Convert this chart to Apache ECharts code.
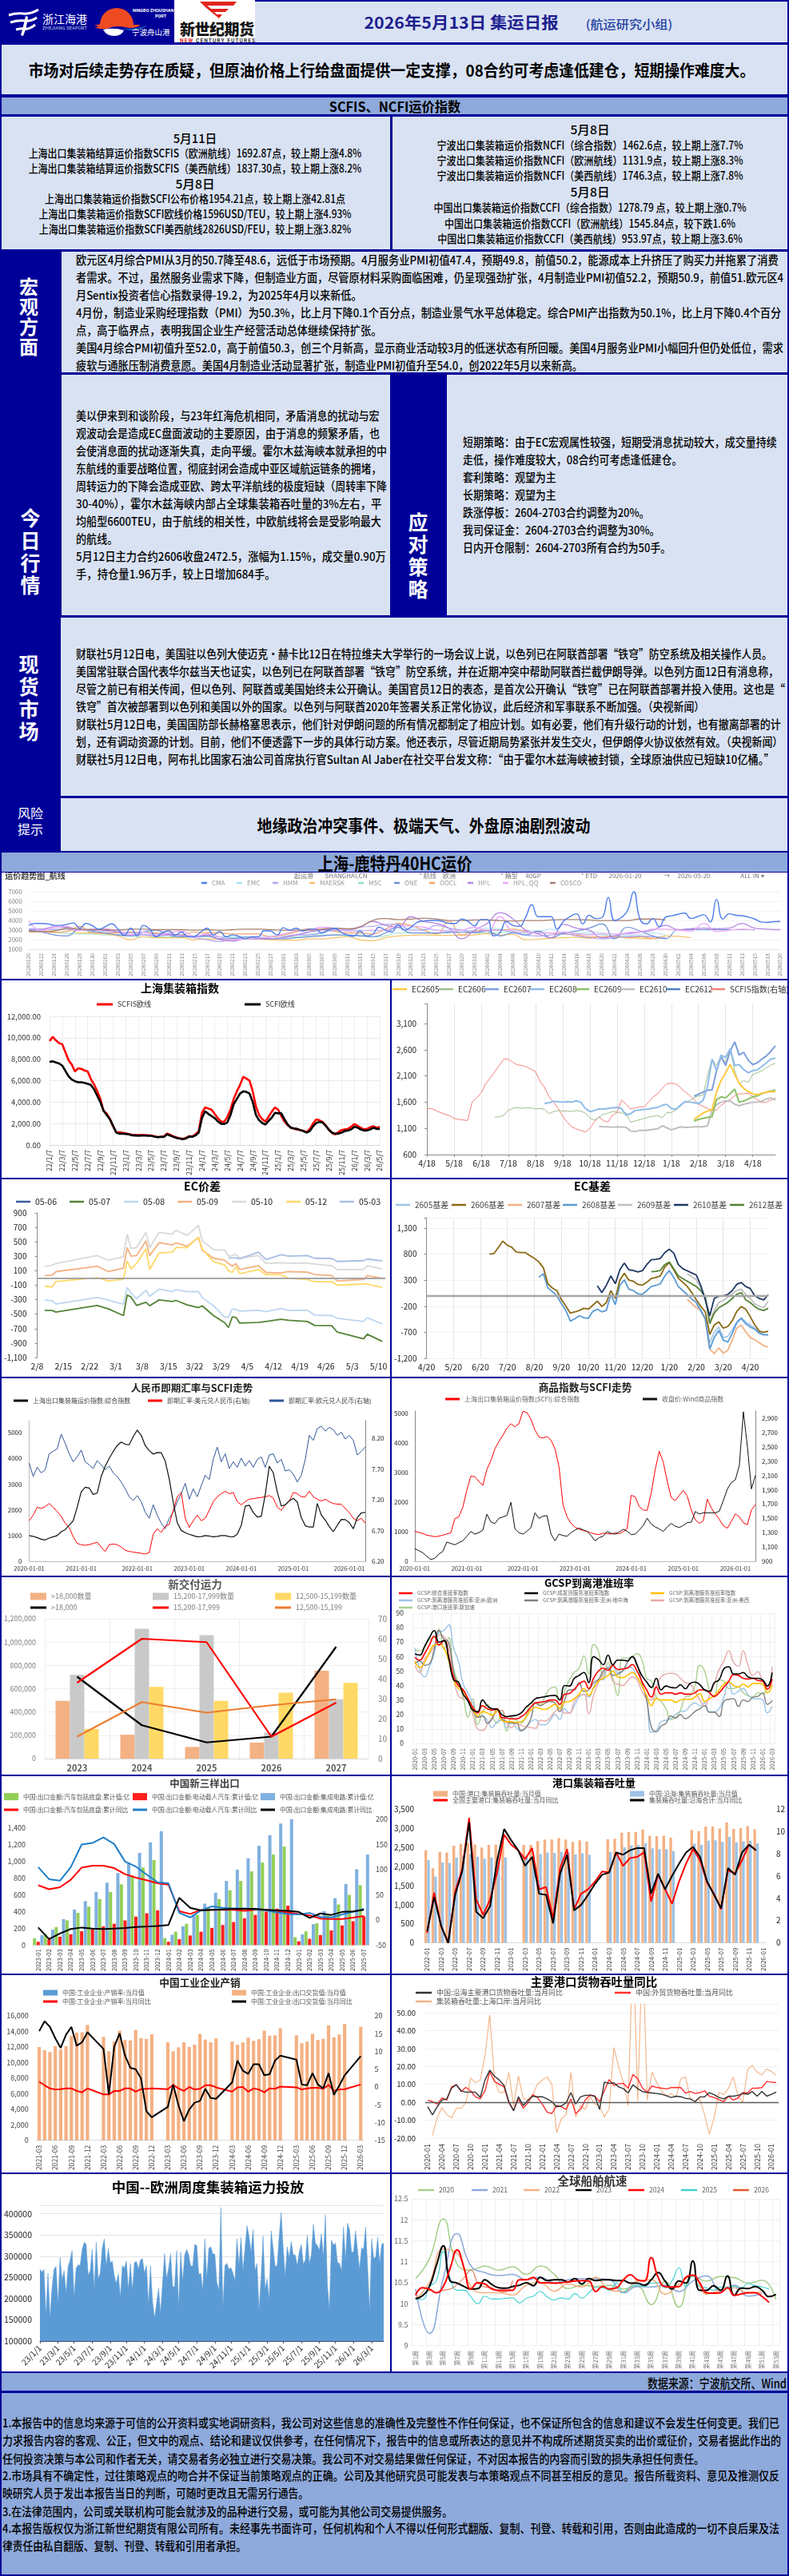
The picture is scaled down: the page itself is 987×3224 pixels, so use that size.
<!DOCTYPE html>
<html lang="zh"><head><meta charset="utf-8"><title>集运日报</title>
<script src="https://cdn.jsdelivr.net/npm/echarts@6/dist/echarts.min.js"></script>
<style>
html,body{margin:0;padding:0;background:#000099}
#page{position:relative;width:987px;height:3224px;overflow:hidden;background:#000099;font-family:"Noto Sans CJK SC","Noto Sans",sans-serif;color:#000}
.b{position:absolute}.t{position:absolute;white-space:nowrap;line-height:1}
</style></head><body><div id="page"></div>
<script>
/* ---------- text ---------- */
const headline='市场对后续走势存在质疑，但原油价格上行给盘面提供一定支撑，08合约可考虑逢低建仓，短期操作难度大。';
const freightLeft=[['5月11日',172,1],['上海出口集装箱结算运价指数SCFIS（欧洲航线）1692.87点，较上期上涨4.8%',191],['上海出口集装箱结算运价指数SCFIS（美西航线）1837.30点，较上期上涨8.2%',210],['5月8日',229,1],['上海出口集装箱运价指数SCFI公布价格1954.21点，较上期上涨42.81点',248],['上海出口集装箱运价指数SCFI欧线价格1596USD/TEU，较上期上涨4.93%',267],['上海出口集装箱运价指数SCFI美西航线2826USD/FEU，较上期上涨3.82%',286]];
const freightRight=[['5月8日',161,1],['宁波出口集装箱运价指数NCFI（综合指数）1462.6点，较上期上涨7.7%',181],['宁波出口集装箱运价指数NCFI（欧洲航线）1131.9点，较上期上涨8.3%',200],['宁波出口集装箱运价指数NCFI（美西航线）1746.3点，较上期上涨7.8%',219],['5月8日',239,1],['中国出口集装箱运价指数CCFI（综合指数）1278.79 点，较上期上涨0.7%',259],['中国出口集装箱运价指数CCFI（欧洲航线）1545.84点，较下跌1.6%',279],['中国出口集装箱运价指数CCFI（美西航线）953.97点，较上期上涨3.6%',298]];
const macroLines=['欧元区4月综合PMI从3月的50.7降至48.6，远低于市场预期。4月服务业PMI初值47.4，预期49.8，前值50.2，能源成本上升挤压了购买力并拖累了消费','者需求。不过，虽然服务业需求下降，但制造业方面，尽管原材料采购面临困难，仍呈现强劲扩张，4月制造业PMI初值52.2，预期50.9，前值51.欧元区4','月Sentix投资者信心指数录得-19.2，为2025年4月以来新低。','4月份，制造业采购经理指数（PMI）为50.3%，比上月下降0.1个百分点，制造业景气水平总体稳定。综合PMI产出指数为50.1%，比上月下降0.4个百分','点，高于临界点，表明我国企业生产经营活动总体继续保持扩张。','美国4月综合PMI初值升至52.0，高于前值50.3，创三个月新高，显示商业活动较3月的低迷状态有所回暖。美国4月服务业PMI小幅回升但仍处低位，需求','疲软与通胀压制消费意愿。美国4月制造业活动显著扩张，制造业PMI初值升至54.0，创2022年5月以来新高。'];
const macroWidths=[879,885,null,882,null,885,null];
const todayLines=['美以伊来到和谈阶段，与23年红海危机相同，矛盾消息的扰动与宏','观波动会是造成EC盘面波动的主要原因，由于消息的频繁矛盾，也','会使消息面的扰动逐渐失真，走向平缓。霍尔木兹海峡本就承担的中','东航线的重要战略位置，彻底封闭会造成中亚区域航运链条的拥堵，','周转运力的下降会造成亚欧、跨太平洋航线的极度短缺（周转率下降','30-40%），霍尔木兹海峡内部占全球集装箱吞吐量的3%左右，平','均船型6600TEU，由于航线的相关性，中欧航线将会是受影响最大','的航线。','5月12日主力合约2606收盘2472.5，涨幅为1.15%，成交量0.90万','手，持仓量1.96万手，较上日增加684手。'];
const todayWidths=[380,380,389,382,389,382,382,null,388,null];
const strategyLines=['短期策略：由于EC宏观属性较强，短期受消息扰动较大，成交量持续','走低，操作难度较大，08合约可考虑逢低建仓。','套利策略：观望为主','长期策略：观望为主','跌涨停板：2604-2703合约调整为20%。','我司保证金：2604-2703合约调整为30%。','日内开仓限制：2604-2703所有合约为50手。'];
const strategyWidths=[393,null,null,null,null,null,null];
const spotLines=['财联社5月12日电，美国驻以色列大使迈克•赫卡比12日在特拉维夫大学举行的一场会议上说，以色列已在阿联酋部署“铁穹”防空系统及相关操作人员。','美国常驻联合国代表华尔兹当天也证实，以色列已在阿联酋部署“铁穹”防空系统，并在近期冲突中帮助阿联酋拦截伊朗导弹。以色列方面12日有消息称，','尽管之前已有相关传闻，但以色列、阿联酋或美国始终未公开确认。美国官员12日的表态，是首次公开确认“铁穹”已在阿联酋部署并投入使用。这也是“','铁穹”首次被部署到以色列和美国以外的国家。以色列与阿联酋2020年签署关系正常化协议，此后经济和军事联系不断加强。（央视新闻）','财联社5月12日电，美国国防部长赫格塞思表示，他们针对伊朗问题的所有情况都制定了相应计划。如有必要，他们有升级行动的计划，也有撤离部署的计','划，还有调动资源的计划。目前，他们不便透露下一步的具体行动方案。他还表示，尽管近期局势紧张并发生交火，但伊朗停火协议依然有效。（央视新闻）','财联社5月12日电，阿布扎比国家石油公司首席执行官Sultan Al Jaber在社交平台发文称：“由于霍尔木兹海峡被封锁，全球原油供应已短缺10亿桶。”'];
const spotWidths=[871,879,887,786,882,884,874];
const disclaimerLines=['1.本报告中的信息均来源于可信的公开资料或实地调研资料，我公司对这些信息的准确性及完整性不作任何保证，也不保证所包含的信息和建议不会发生任何变更。我们已','力求报告内容的客观、公正，但文中的观点、结论和建议仅供参考，在任何情况下，报告中的信息或所表达的意见并不构成所述期货买卖的出价或征价，交易者据此作出的','任何投资决策与本公司和作者无关，请交易者务必独立进行交易决策。我公司不对交易结果做任何保证，不对因本报告的内容而引致的损失承担任何责任。','2.市场具有不确定性，过往策略观点的吻合并不保证当前策略观点的正确。公司及其他研究员可能发表与本策略观点不同甚至相反的意见。报告所载资料、意见及推测仅反','映研究人员于发出本报告当日的判断，可随时更改且无需另行通告。','3.在法律范围内，公司或关联机构可能会就涉及的品种进行交易，或可能为其他公司交易提供服务。','4.本报告版权仅为浙江新世纪期货有限公司所有。未经事先书面许可，任何机构和个人不得以任何形式翻版、复制、刊登、转载和引用，否则由此造成的一切不良后果及法','律责任由私自翻版、复制、刊登、转载和引用者承担。'];
const disclaimerWidths=[972,974,878,972,383,563,972,305];

/* ---------- freight chart ---------- */
const freightDates=['20260120','20260122','20260124','20260126','20260128','20260130','20260201','20260203','20260205','20260207','20260209','20260211','20260213','20260215','20260217','20260219','20260221','20260223','20260225','20260227','20260301','20260303','20260305','20260307','20260309','20260311','20260313','20260315','20260317','20260319','20260321','20260323','20260325','20260327','20260329','20260331','20260402','20260404','20260406','20260408','20260410','20260412','20260414','20260416','20260418','20260420','20260422','20260424','20260426','20260428','20260430','20260502','20260504','20260506','20260508','20260511','20260513','20260515','20260518','20260520'];
const cma=[3500,3700,3700,3650,3500,3500,3600,3750,3200,3700,3450,3100,3350,3650,3100,2450,3200,2400,3500,3100,2300,2750,2900,2500,2800,2300,2350,2800,3200,2500,2850,2300,2500,2350,2100,2300,2300,2950,2900,2500,3250,3000,3200,2900,3100,3100,2700,3000,3200,2800,2500,2350,2900,2400,2550,3300,3000,2800,3550,3000,3300,3800,3950,4000,4000,3900,3700,3700,4150,3900,3450,4100,4100,2400,2750,3900,3500,3400,4300,5650,4400,4400,4400,3100,3950,4400,4700,3650,4550,4200,4300,6400,4000,4300,5000,7000,4100,3650,4200,3350,4350,4500,4650,4780,4200,4400,4600,3850,6200,4150,4700,4550,4500,4350,4150,3850,3800,3880,3900];
const emc=[3100,3100,3050,3100,3000,2800,2700,2500,2400,2600,2500,2500,2400,2300,2300,2300,2300,2300,2300,2400,2400,2500,2600,2800,2900,3000,3000,2900,3000,3200,3200,3100,3000,3000,3000,2950,3200,3100,3000,3000,2900,3100,2700,2700,2800,2700,2600,2500,2550,2700,2500];
const hmm=[3100,3000,3100,3100,3000,3000,2900,2800,2700,2800,2600,2600,2400,2200,2000,1800,2100,2100,2100,2100,2300,2500,2500,2700,3000,3000,3300,3400,3600,3600,3000,3000,3500,3200,3000,2800,3000,3000,2800,2500,2400,2500,2600,2400,2200,2100,2200,2300,2400,2300,2200];
const maersk=[2800,2800,2950,3100,2700,2700,2600,2400,2000,2300,2200,2200,2200,2000,2100,2050,2000,2100,2050,2000,1950,1950,2100,2100,2200,2300,2000,1900,2200,2400,2450,2500,2450,2450,2450,2500,2650,2500,2550,2000,2050,2150,2200,2250,2150,2300,2300,2200,2150,2100,2400,2350,2200];
const msc=[2900,2850,2750,2650,2600,2600,2500,2500,2400,2300,2300,2300,2300,2300,2350,2300,2200,2200,2150,2150,2250,2300,2400,2500,2500,2400,2500,2300,2400,2700,2700,2700,2700,2800,2800,2700,2700,2750,2800,2700,2800,2700,2600,2600,2600,2500,2400,2350,2300,2300,2200];
const one=[3000,2800,2500,2400,3100,2900,2700,2500,2400,2800,3000,2500,2300,2300,2400,2100,2100,2300,2200,2100,2100,2200,2300,2400,2500,2500,2400,2300,2700,3300,2700,2700,2700,2750,2800,2750,2900,2400,2700,2500,2900,2200,2700,2900,3200,3650,2100,3300,2900,2400,2100,3050,3050,3050,3050,3050,3050,3050];
const oocl=[2800,2800,2750,2850,3400,2700,2700,2700,2800,2800,2700,2600,2500,2800,2700,2700,2600,2600,2600,2300,2500,2800,3150,3050,2900,2700,2700,2600,3100,3700,3500,3000,2600,3900,2500,2900,3000,3000,3100,2900,2700,2700,2600,2500,2300,2300,2400,2200,2300,2150,2150];
const hpl=[3100,3100,3350,3300,3000,3100,3000,2800,2500,2500,2400,2500,2500,2300,2500,2000,1850,2100,2100,2100,2200,2500,2800,3000,3100,3100,3300,3900,3500,3300,4400,3900,3700,3200,2100,3000,3700,4800,4200,3000,2600,2200,3600,3200,3000,2200,2400,2700,2800,3000,3500,3050,3150,3200,3150,3200,3700,3200,3100,3050];
const hplQQ=[4000,2950,3300,3400,2950,3100,3150,2950,2500,2800,2500,2700,2900,2350,2600,2300,2000,2100,2200,2300,2600,2900,3000,3300,3200,2900,2900,3000,3000,3500,3400,3300,3000,2900,3000,3300,2900,4400,2900,2800,2700,2700,2800,2600,2500,2600,2600,2600,2800,3100,3100,3000,2900,3700,2850,3000,3100,3000];
const cosco=[2900,2850,2900,3200,3100,3050,3050,3000,3100,3100,3050,3050,3050,3000,3050,3000,3050,3100,3100,3050,3000,3000,3000,3100,3200,3150,3350,4000,4200,4100,4150,4250,4150,4000,4000,4050,4050,4000,3950,4000,4000,4050,4100,4100,4050,4000,4000,4000,4150,4150,4050];

/* ---------- Shanghai index ---------- */
const scfisTicks=['22/1/7','22/3/7','22/5/7','22/7/7','22/9/7','22/11/7','23/1/7','23/3/7','23/5/7','23/7/7','23/9/7','23/11/7','24/1/7','24/3/7','24/5/7','24/7/7','24/9/7','24/11/7','25/1/7','25/3/7','25/5/7','25/7/7','25/9/7','25/11/7','26/1/7','26/3/7','26/5/7'];
const scfisEU=[9700,10090,9760,9500,9400,8650,7900,7500,6860,7150,7100,6950,6860,6160,5660,5040,4300,3180,2930,2430,1740,1190,1180,1140,1070,1020,940,930,930,930,920,900,870,820,745,760,800,1070,950,800,700,620,570,650,820,800,1000,1300,3000,3500,3400,3300,2900,2500,2190,2150,2600,3300,4300,5000,5600,6360,6200,6000,5000,3600,2800,2400,2190,2650,3100,3500,3300,2700,2190,1850,1650,1500,1440,1400,1300,1190,1500,2000,2385,2300,2150,1800,1450,1100,990,1200,1400,1450,1500,1700,1950,1800,1600,1450,1500,1650,1750,1600,1700];
const scfiEU=[7760,7800,7700,7600,7400,6900,6400,6100,5950,5850,5850,5800,5700,5600,5200,4600,4000,3200,2800,2400,1800,1150,1050,1050,1030,980,900,880,860,880,870,860,850,780,720,750,750,980,870,760,650,590,540,620,780,760,900,1150,2500,3150,2900,2700,2500,2200,1980,1950,2100,2800,3800,4300,4800,5000,4950,4800,4000,2800,2300,2050,1900,2250,2550,3000,2950,2950,2400,1900,1600,1550,1500,1380,1300,1150,1300,1750,2050,2150,2100,1800,1400,1150,1050,1050,1150,1300,1350,1450,1700,1620,1450,1350,1350,1450,1600,1500,1500];

/* ---------- EC contracts ---------- */
const ecTicks=['4/18','5/18','6/18','7/18','8/18','9/18','10/18','11/18','12/18','1/18','2/18','3/18','4/18'];
const ecScfis=[1470,1480,1440,1400,1370,1340,1290,1270,1260,1250,1600,1680,1780,1950,2060,2180,2300,2420,2420,2360,2310,2300,2270,2230,2180,2000,1880,1700,1600,1480,1330,1220,1130,1090,1060,1030,1100,1220,1320,1250,1220,1350,1400,1640,1560,1470,1490,1510,1510,1600,1700,1760,1860,1950,1960,1950,1880,1800,1730,1650,1560,1520,1480,1450,1450,1540,1600,1650,1720,1760,1760,1770,1700,1650,1590,1600,1640,1680];
const ec2605=[1270,1330,1390,1430,1450,1800,2010,2160,2320,2130,1960,1860,1800,1760,1740,1770,1790,1800,1800];
const ec2606=[1315,1320,1350,1450,1480,1500,1480,1490,1490,1470,1480,1460,1380,1420,1440,1430,1430,1420,1440,1430,1390,1300,1255,1310,1370,1390,1420,1410,1390,1395,1220,1240,1265,1290,1317,1330,1343,1300,1400,1400,1450,1520,1600,1630,1680,1720,1730,2100,2420,2300,2480,2350,2620,2200,1950,2010,1980,2130,2160,2200,2250,2310,2340];
const ec2607=[1710,1750,1790,1830,1830,2200,2470,2300,2570,2750,2500,2550,2400,2315,2350,2420,2480,2570,2675];
const ec2608=[1570,1590,1615,1610,1600,1610,1600,1625,1600,1480,1420,1440,1470,1470,1480,1490,1500,1480,1350,1380,1440,1450,1460,1470,1486,1500,1540,1558,1480,1460,1540,1610,1600,1590,1570,1630,1900,2420,2200,2495,2450,2620,2300,2315,2220,2160,2200,2215,2280,2350,2420,2440];
const ec2609=[1240,1270,1290,1310,1320,1650,1700,1680,1760,1850,1600,1620,1660,1700,1720,1760,1790,1810,1830];
const ec2610=[1140,1130,1130,1120,1130,1125,1120,1050,1040,1060,1060,1070,1080,1090,1150,1110,1070,1100,1130,1120,1120,1130,1130,1130,1150,1450,1550,1600,1620,1620,1560,1530,1560,1580,1600,1600,1620,1660,1680,1640];
const ec2612=[];

/* ---------- EC spread ---------- */
const spreadTicks=['2/8','2/15','2/22','3/1','3/8','3/15','3/22','3/29','4/5','4/12','4/19','4/26','5/3','5/10'];
const spreadDays=[2,4,5,16,19,23,24,25,26.5,29,30,32.5,36,37,40,43,44,47,50,51,52,53,54,59,61,65,67,72,74,78.5,80,87,88,92];
const sp0507=[-450,-450,-472,-380,-428,-520,-236,-262,-380,-336,-384,-303,-325,-310,-373,-410,-384,-520,-620,-686,-539,-546,-624,-616,-601,-572,-585,-601,-657,-660,-749,-841,-778,-878];
const sp0508=[-306,-315,-361,-269,-306,-365,-133,-207,-288,-170,-255,-155,-188,-162,-190,-188,-270,-384,-542,-542,-428,-435,-457,-446,-465,-421,-450,-446,-513,-520,-557,-601,-550,-638];
const sp0509=[33,40,88,162,88,135,420,302,310,513,310,487,457,483,439,560,383,273,243,200,162,199,118,170,77,70,88,80,48,33,-40,-22,33,-5];
const sp0510=[162,175,199,310,243,295,605,410,420,631,420,631,605,660,590,727,513,391,384,302,310,328,273,310,199,210,205,205,192,170,114,118,170,125];
const sp0512=[-114,-125,-48,4,-40,-18,236,125,200,402,118,347,358,420,420,568,402,225,181,100,77,155,59,118,44,44,-5,-22,-51,-51,-100,-85,-85,-129];
const sp0503=[277,277,277,265,358,255,321,302,310,273,270,229,240,262,236];

/* ---------- EC basis ---------- */
const basisTicks=['4/20','5/20','6/20','7/20','8/20','9/20','10/20','11/20','12/20','1/20','2/20','3/20','4/20'];
const basis2605=[-150,-300,-450,-900,-700,-600,-800,-780,-650,-500,-420,-500,-560,-620,-700,-740,-750];
const basis2606=[800,810,930,1050,970,930,840,830,830,770,720,650,540,232,150,100,-70,-200,-332,-310,-281,-240,-256,-180,-100,-205,-130,100,-51,300,434,300,281,220,205,260,332,350,383,550,639,500,340,260,180,60,-77,-200,-307,-740,-560,-500,-620,-590,-480,-300,-205,-256,-400,-556,-680,-700,-680];
const basis2607=[-61,-150,-230,-271,-450,-1021,-1110,-1000,-1100,-1047,-850,-620,-562,-690,-800,-843,-900,-960,-985];
const basis2608=[355,424,153,80,0,-150,-280,-485,-440,-383,-420,-434,-300,-256,-307,-280,25,-169,200,307,130,100,40,25,100,179,200,230,380,486,350,179,100,20,-60,-128,-280,-434,-1021,-800,-665,-850,-890,-720,-520,-434,-536,-600,-640,-720,-750,-750];
const basis2609=[420,370,307,150,-25,-484,-280,-128,-90,-25,40,100,130,25,-50,-153,-200,-230,-102];
const basis2610=[191,61,200,383,232,500,630,500,486,460,480,600,692,700,717,830,896,820,600,520,480,440,400,200,-77,-383,-50,-10,0,25,100,220,256,179,140,0,-50,-77,20];
const basis2612=[462,470,487,600,650,520,383,330,280,230,179,100,-25,-536,-330,-230,-180,-128,-50,30,61,-77,-130,-205,-260,-281,-240];

/* ---------- FX and commodity ---------- */
const yearTicks=['2020-01-01','2021-01-01','2022-01-01','2023-01-01','2024-01-01','2025-01-01','2026-01-01'];
const fxScfi=[1000,970,920,860,830,900,950,1000,1150,1230,1400,1576,2100,2700,2880,2850,2600,2650,3300,3700,4000,4272,4500,4640,4550,4530,4850,5100,4900,4500,4300,4170,4230,4220,3900,3200,2300,1500,1200,1110,1050,1000,950,960,1000,980,950,970,1000,1000,960,950,1050,1400,2150,2180,1900,1720,1750,2600,3700,3440,2700,2150,2200,2350,2450,2300,1700,1380,1330,1330,2250,1800,1600,1350,1150,1400,1630,1620,1500,1265,1700,1880,1900];
const usdCny=[6.86,6.95,7.08,7.06,7.09,7.14,7.08,7.01,6.93,6.82,6.75,6.60,6.49,6.47,6.46,6.47,6.49,6.51,6.43,6.36,6.47,6.48,6.47,6.43,6.38,6.36,6.35,6.34,6.33,6.32,6.34,6.64,6.73,6.67,6.77,6.80,7.03,7.25,7.32,6.90,6.75,6.86,6.95,6.86,6.90,7.03,7.17,7.25,7.30,7.34,7.30,7.32,7.17,7.12,7.17,7.21,7.22,7.23,7.24,7.25,7.27,7.23,7.08,7.03,7.12,7.18,7.32,7.30,7.25,7.25,7.34,7.25,7.21,7.18,7.21,7.17,7.14,7.13,7.13,7.06,6.99,6.90,6.86,6.90,6.82];
const eurCny=[7.80,7.58,7.73,7.64,7.69,7.95,7.99,8.03,8.27,8.12,7.95,7.82,7.90,8.01,7.82,7.77,7.71,7.84,7.77,7.69,7.75,7.64,7.58,7.49,7.38,7.25,7.19,7.27,7.17,7.00,6.90,7.12,6.95,6.82,6.73,6.90,7.00,7.17,7.30,7.47,7.21,7.38,7.25,7.43,7.60,7.53,7.86,8.06,7.82,7.95,7.71,7.82,7.73,7.88,7.75,7.84,7.73,7.86,7.90,7.73,7.93,7.95,7.80,7.86,7.67,7.69,7.62,7.49,7.60,7.86,8.25,8.17,8.36,8.40,8.32,8.38,8.34,8.25,8.30,8.19,8.25,8.17,7.93,7.99,8.06];
const cmdScfi=[1011,980,940,880,860,830,850,880,920,960,1440,1500,1824,2400,2880,2860,2700,2565,3100,3400,3800,4050,4260,4500,4650,4550,4650,5075,5030,4800,4440,4200,4170,4217,4100,3800,3200,1914,1500,1282,1150,1084,1040,1011,960,920,903,950,940,920,960,930,1000,1100,2230,2185,1850,1734,1720,2300,3100,3720,3360,2700,2150,2050,2230,2400,2200,1734,1400,1282,1372,2100,1800,1600,1418,1200,1120,1350,1600,1500,1300,1237,1734,1914];
const windIndex=[1075,1050,1019,970,926,940,1000,1037,1168,1150,1130,1160,1186,1250,1316,1279,1300,1335,1558,1450,1428,1500,1520,1540,1725,1353,1300,1279,1320,1372,1577,1500,1530,1539,1280,1186,1279,1260,1250,1300,1335,1365,1340,1316,1260,1186,1230,1250,1316,1290,1279,1310,1346,1320,1272,1280,1335,1400,1502,1420,1380,1353,1316,1380,1428,1390,1372,1400,1440,1446,1595,1560,1577,1577,1577,1577,1600,1750,1911,2000,2040,2245,2990,2500,1911,2100];

/* ---------- deliveries ---------- */
const deliveryYears=['2023','2024','2025','2026','2027'];
const teu18k=[495000,205000,100000,137000,755000];
const teu15k=[720000,1115000,1060000,225000,510000];
const teu12k=[255000,615000,495000,565000,650000];
const cnt18k=[41,16.7,8.1,11,56];
const cnt15k=[38,60,58.3,11,28];
const cnt12k=[11,28.3,23,26.7,29.7];

/* ---------- GCSP ---------- */
const gcspTicks=['2020-01','2020-03','2020-05','2020-07','2020-09','2020-11','2021-01','2021-03','2021-05','2021-07','2021-09','2021-11','2022-01','2022-03','2022-05','2022-07','2022-09','2022-11','2023-01','2023-03','2023-05','2023-07','2023-09','2023-11','2024-01','2024-03','2024-05','2024-07','2024-09','2024-11','2025-01','2025-03','2025-05','2025-07','2025-09','2025-11','2026-01','2026-03'];
const gcspAll=[59.5,57.5,62,68,74,68,71,60,46,40,37,31,25,21,26,24,23,24,18,17.5,17,17,18.5,21,25,28,28.5,29,30,30,27,34,34.5,37.5,41,43,38,45,50,52,50.5,54,51,51.5,52,54.5,50,43,37,32,39,34,35,35,34,35,34,34,35,37,37,35,32.5,35,39,43,47.5,47,45,44.5,45,43.5,43,37.5,44.5];
const gcspCargo=[61.8,61,67,73,78,70,71,59,44,42.5,34,29.5,23,22,30,26,24,23.6,20,18.5,19,19.4,21,25,27.7,31,31.7,32.3,33,33.2,30,40,39.7,45,47,49,42,60,58,54.4,61,54.4,57.6,57.6,57,60,54,47,42.5,38.7,45,37,39.7,38.7,38.4,40.6,37.8,41.5,42.4,40.6,37,36,42,44,51.6,53,48,48,49,46,45,45,44,39.7,49];
const gcspPort=[57,52.5,56,63,68,68.5,66,57,44,38,36,30,24,19,22,21,19.5,23,16,15,15,14.5,15,18,23,25,24,23.5,25,27,24,28.5,29,31,34,38,33,38,43,45,47,50,46,45.5,47,49,46,40,33,26,31,30,30,30,28.5,30,30.5,30.5,32,34.5,29,31,33,37,41,42.5,40,39,41,39,41.5,41.5,41,35,40.5];
const gcspEurope=[66,51,46,53,62,77,78,82,66,57,41,35,28,19,19,16,11,15,16,11,15,11,8.5,11,15,16.5,13,13,16,20,16.5,24,21,26,32,34,32,39,44,44,53,53,49,50,53,52,46,40,30,7.5,9,15,16,17,20,22,22.5,26,28,26,28,22,22,24,32,42,34,36,38,33.5,31,31,30,21,25.5];
const gcspMed=[55,57,54,55,65,78,72,70,50,40,37,29,23,18,19,14,17,24,17,15,14,14,9,11,17,28,26,28,29,28,22,30,37,37,42,36,37,42,44,50,52,47,48,50,56,60,55,42,30,11,8,12,14,19,17.5,20,17,19,22,24,26,21.5,21.5,18.5,29,30.5,31,25.5,30,29,32,32.5,35,27,29.5];
const gcspUSW=[54,49,58,62,67,75,74,66,46,33,31,30,20,10,9,13,18,22,23,14,11,14,12.5,11.5,11,10.5,16,15.5,18,22,24,21,21,29,33,34,20.5,33,42,48,52,43,41,40,43,46,44,36,31,30,39,46,48,48.5,48,45,42,41,36,30,26,33,41,51,57,64,56,53.5,64,54,47,49.5,43,39,53];
const gcspSG=[65,64,66,72,73,79,65,73,52,42,32,18,31,13,21,27,19,14,23,8.5,18,16,14,19,28,28,27,33,38,39,24,36,44,49,52,60.5,48,68.5,64,46,56,45,33,59,59,60,62,58,45,43,32,29,24,16.5,18,23,32,33,40,54,50,37,32,44,43,38,38,39,35,33,32,35,34,39,44];

/* ---------- new trio exports ---------- */
const trioMonths=['2023-01','2023-02','2023-03','2023-04','2023-05','2023-06','2023-07','2023-08','2023-09','2023-10','2023-11','2023-12','2024-01','2024-02','2024-03','2024-04','2024-05','2024-06','2024-07','2024-08','2024-09','2024-10','2024-11','2024-12','2025-01','2025-02','2025-03','2025-04','2025-05','2025-06','2025-07'];
const trioCar=[80,130,215,295,385,460,550,635,725,830,925,1015,85,160,255,360,455,550,655,765,880,985,1080,1175,95,165,260,370,485,600,715];
const trioEV=[40,70,100,130,165,190,225,255,295,340,380,415,40,70,115,160,205,240,275,320,360,400,435,470,45,75,120,175,235,285,345];
const trioIC=[120,185,310,425,525,635,745,860,985,1100,1225,1360,125,225,365,495,625,765,900,1035,1185,1310,1450,1510,130,250,405,560,730,905,1080];
const trioCarY=[69,61,65,80,104,108,108,103,91,84,79,73,70,17.5,12,20,20,20,20,18,20,20,18,15,12,9,2.7,2,2,4.7,8];
const trioEVY=[105,81,78,105,150,153,164,151,116,106,90,75,73,14,5,19,27,24,23,23,21,19,15,12,11,14,6,5,11,16,22];
const trioICY=[-15,-38,-27,-18,-15,-17,-18,-17,-16,-14,-13,-12,-10,44,24,19,20,21,22,22,22,20,19,18,16,4,13,10,16,17,20];

/* ---------- port throughput ---------- */
const portTicks=['2022-01','2022-03','2022-05','2022-07','2022-09','2022-11','2023-01','2023-03','2023-05','2023-07','2023-09','2023-11','2024-01','2024-03','2024-05','2024-07','2024-09','2024-11','2025-01','2025-03','2025-05','2025-07','2025-09','2025-11','2026-01'];
const portChina=[2420,1950,2380,2360,2540,2590,2620,2570,2490,2560,2570,2650,null,null,2560,2560,2660,2700,2700,2740,2700,2640,2680,2650,null,null,2710,2720,2880,2900,2900,2960,2800,2790,2800,2750,null,null,2950,2920,3040,3040,2990,3150,2980,3000,3050,2970,null];
const portCoast=[2160,1730,2100,2090,2230,2280,2320,2250,2200,2230,2230,2230,null,null,2280,2270,2320,2360,2350,2380,2370,2310,2340,2300,null,null,2380,2380,2500,2550,2560,2600,2470,2450,2450,2400,null,null,2590,2560,2670,2680,2640,2770,2630,2650,2670,2600,null];
const portMajorY=[0.9,4.5,1.5,0,4.6,6.6,11.2,3.9,2.5,3.9,6.3,9.7,8.8,8.3,7.5,8.5,4.8,5,2.2,6.7,8.4,3,4.4,4.8,5.5,6.4,6.3,8.1,6.9,7.6,7.7,8.1,3.7,6.1,4.8,3.5,5.5,7.1,8.4,7.4,5.4,4.4,3,6.5,6.2,7.4,8.8,8.3];
const portCoastY=[1.05,4.1,1.5,0,4.3,6.4,10.8,2.8,2.2,3.3,7.4,10.2,9.2,8.3,6.9,7.7,4.4,4.3,1.75,6.2,7.9,2.9,3.4,4.3,5.3,6.1,6.3,8.1,7.9,8.3,8.5,8.5,4.4,6.2,4.8,6,7.1,8.1,8.6,7.7,5.5,4.3,3.1,6.7,6.1,8.1,8.8,8.3];

/* ---------- industrial ---------- */
const indTicks=['2021-03','2021-06','2021-09','2021-12','2022-03','2022-06','2022-09','2022-12','2023-03','2023-06','2023-09','2023-12','2024-03','2024-06','2024-09','2024-12','2025-03','2025-06','2025-09','2025-12','2026-03'];
const indExport=[12000,11600,11350,12100,11700,12100,13400,13850,13900,14850,null,null,13300,11450,12700,14100,12900,12850,14200,13150,13050,13650,null,null,12600,11450,11950,12600,12000,12300,13700,12950,12600,13100,null,null,12700,12300,12600,13200,12800,13000,14100,13450,13500,14400,null,null,13500,12500,12700,13700,12900,13050,14800,13250,13600,14950,null,null,14600];
const indRate=[96,96,96,96,96,96,96,96,96,96,null,null,96,96,96,96,96,96,96,96,96,96,null,null,96,96,96,96,96,96,96,96,96,96,null,null,96,96,96,96,96,96,96,96,96,96,null,null,96,96,96,96,96,96,96,96,96,96,null,null,96];
const indRateY=[1.5,.5,-.4,-.7,-.6,-.4,-.4,-1.1,-1.5,-.4,null,null,-2.1,-2.1,-1.1,-1.1,-.4,-.4,-1.3,-.6,-.5,-.4,null,null,-.6,.6,-.4,-1.1,0,-.7,-.5,.5,.5,-.1,null,null,-1.3,-.1,0,-1.3,-.4,-.7,-1.5,-.4,-.5,.1,null,null,-.1,-.7,-.4,-.2,-.2,-.5,.6,-1.1,-.7,-.6,null,null,.7];
const indExportY=[15.7,18.5,16.9,13.7,11,14.7,16.9,11.6,12.6,15.4,null,null,10.7,-2,11.3,15.1,8.9,5.4,5,2.4,-6.8,-8.5,null,null,-5.6,.7,-5.2,-9.6,-6.3,-4.4,-3.9,-.5,-3.1,-3.3,null,null,1.3,7.4,4.6,3.7,6.4,6.4,3.3,3.6,7.4,8.8,null,null,7.7,.7,.5,3.9,.7,-.4,3.9,-2.2,.4,3.3,null,null,8.7];

/* ---------- cargo yoy ---------- */
const cargoTicks=['2020-01','2020-04','2020-07','2020-10','2021-01','2021-04','2021-07','2021-10','2022-01','2022-04','2022-07','2022-10','2023-01','2023-04','2023-07','2023-10','2024-01','2024-04','2024-07','2024-10','2025-01','2025-04','2025-07','2025-10','2026-01'];
const cargoCoast=[-2.5,-7,-2.5,1.2,1.9,7.9,9.8,6.4,5.7,5.7,5.7,2.7,12.4,18,14.6,12.4,9.4,.4,-4.8,3.1,-1.8,1.2,3.4,3.1,3.1,1.9,.4,-2.5,-2,-.3,5.4,-1,3,3.9,3.9,3.4,-4,11.3,10.6,10.9,8.6,7.6,5.2,9.8,7.6,6,5.5,5.2,4.9,4.5,3.7,2.7,3.4,3.1,2.2,1.9,.4,3,3.1,5.4,4.2,2.7,1.9,3.4,3.4,3.9,4.9,4.5,6,3.4,6.1,3.4,4.5,5.7];
const cargoForeign=[1.2,.4,-1,2.4,1.2,8.6,9.8,6.1,8.3,6.4,3,1.9,6.4,17.1,11.6,10.1,8.6,-.3,-4.5,1.9,-3.3,-.3,4.2,2.7,-1,-5.5,-6.3,-1.8,-2.5,-4,1.9,-6.3,-4,1.2,4.2,3.4,.4,6.4,12.7,9.4,10.4,10.6,7.9,15.6,13.1,7.9,5.7,9.1,8.3,7.9,7.5,8.2,8.3,8.2,5.2,6,4.9,5.4,6.4,3.4,2.7,1.5,.4,3.4,1.2,2.4,5.4,5.2,7.9,7.9,8.2,11.6,11.3,11];
const cargoShanghai=[null,-18.5,-8.5,-3,-7,-8.8,-3.3,-3.3,-.3,13.6,10.9,12.4,25.8,48.9,12.4,5.4,5.7,16.8,-2.2,14.6,2.2,1.5,4.2,10.1,12.4,14.2,10.1,-17.1,-9.2,-7,16.8,-8.2,-1.8,-4,3.4,-1,-2,-8.2,-3.7,30.6,19.8,10.9,-1.8,90,.4,90,1.2,16.8,10.9,6.4,3.4,4.9,2.7,13.1,14.2,1.9,.4,1.9,-7,-17.9,-8.5,5.7,4.2,7.9,14.2,3.4,0,18.3,20.6,16.8,15.3,18.6,17.3,15];

/* ---------- China-Europe weekly capacity ---------- */
const weeklyTicks=['23/1/1','23/3/1','23/5/1','23/7/1','23/9/1','23/11/1','24/1/1','24/3/1','24/5/1','24/7/1','24/9/1','24/11/1','25/1/1','25/3/1','25/5/1','25/7/1','25/9/1','25/11/1','26/1/1','26/3/1'];
const weeklyCapacity=[269,263,269,160,260,154,225,269,276,188,297,244,266,213,275,291,313,203,272,280,278,316,333,328,255,266,316,222,333,247,260,319,341,276,318,285,288,253,236,258,203,278,272,288,222,283,219,285,288,270,291,294,260,278,185,278,194,154,188,225,166,238,306,247,272,306,228,228,313,182,310,241,303,316,303,277,277,328,325,257,260,219,341,247,319,322,305,305,238,219,415,179,278,283,269,273,260,242,341,278,344,266,319,372,347,310,363,266,283,172,250,347,222,247,197,360,319,276,278,347,403,319,253,322,297,335,303,303,278,310,328,281,291,350,283,303,375,331,325,314,353,297,397,232,175,338,326,331,285,283,266,369,291,378,362,310,310,360,313,269,320,316,369,275,169,341,295,297,344,283,328,331].map(v=>v*1000);

/* ---------- vessel speed ---------- */
const speedWeeks=['第1周','第3周','第5周','第7周','第9周','第11周','第13周','第15周','第17周','第19周','第21周','第23周','第25周','第27周','第29周','第31周','第33周','第35周','第37周','第39周','第41周','第43周','第45周','第47周','第49周','第51周','第53周'];
const speed2020=[10.6,11.07,12.02,10.94,10.8,10.9,10.8,10.88,10.7,10.9,10.7,10.36,10.44,10.41,10.44,10.35,10.41,9.98,10.54,9.92,10.66,10.54,10.65,10.62,10.49,10.56,10.1];
const speed2021=[10.35,9.29,10.6,11.67,10.9,10.74,10.67,10.7,10.57,10.63,10.5,10.57,10.6,10.6,10.57,10.26,10.41,10.4,10.44,10.29,10.54,10.66,10.29,10.44,10.18,10.24];
const speed2022=[10.12,10.5,11.3,11.2,10.41,10.26,10.26,10.21,10.44,10.5,10.3,10.47,10.4,10.63,10.32,10.29,10.54,10.57,10.23,10.47,10.66,10.23,10.32,10.38,10.26,10.28];
const speed2023=[10.12,10.19,10.41,10.91,11.38,10.54,10.49,10.41,10.35,10.36,10.57,10.46,10.38,10.37,10.41,10.44,10.5,10.43,10.63,10.55,10.57,10.57,10.52,10.6,10.47,10.6,10.55,10.57,10.57,10.55,10.55,10.49,10.49,10.44,10.57,10.74,10.54,10.35,10.54,10.49,11.02,10.32,10.32,10.43,10.32,10.66,10.2,10.37,10.36,10.41,10.32,10.17,10.22];
const speed2024=[10.2,10.38,10.35,10.26,10.41,10.85,11.28,10.85,10.35,10.5,10.47,10.35,10.32,10.32,10.32,10.57,10.57,10.63,10.5,10.5,10.49,10.5,10.52,10.54,10.55,10.54,10.29,10.41,10.35,10.38,10.57,10.69,10.57,10.54,11.1,10.63,10.41,10.4,10.41,10.63,10.68,10.5,10.26,10.25,10.26,10.38,10.2,10.23,10.26,10.26,10.17,10.03];
const speed2025=[10.1,10.1,10.41,10.54,11.25,10.6,10.32,10.32,10.16,10,10.18,10.11,10.11,10.13,10.14,10.02,10.13,10.18,10.29,10.16,10.09,10.14,10.11,10.24,10.13,10.26,10.39,10.38,10.32,10.5,10.26,10.41,10.44,10.41,10.49,10.5,10.38,10.54,10.86,10.41,10.66,10.41,10.38,10.32,10.4,10.4,10.41,10.38,10.48,10.43,10.4,10.35];
const speed2026=[10.13,10.2,10.32,10.26,10.32,10.35,10.46,10.62,10.8,10.5,10.4,10.38,10.3,10.28,10.55];

/* ---------- helpers ---------- */
const page=document.getElementById('page');
const FONT='"Noto Sans CJK SC","Noto Sans",sans-serif';
const CELL='#D9E2F3',BAR='#8EA9DB',NAVY='#000099';
function box(x,y,w,h,bg){const d=document.createElement('div');d.className='b';d.style.cssText=`left:${x}px;top:${y}px;width:${w}px;height:${h}px;background:${bg}`;page.appendChild(d);return d;}
function text(s,x,cy,size,o={}){const d=document.createElement('div');d.className='t';d.textContent=s;
 const base=o.anchor==='c'?'translate(-50%,-50%)':o.anchor==='r'?'translate(-100%,-50%)':'translateY(-50%)';
 d.style.cssText=`left:${x}px;top:${cy}px;font-size:${size}px;transform:${base};font-weight:${o.w||500};color:${o.c||'#000'}`;
 page.appendChild(d);
 const f=o.fit?o.fit/d.offsetWidth:(o.sx||1);
 if(f!==1){d.style.transformOrigin=o.anchor==='c'?'50% 50%':o.anchor==='r'?'100% 50%':'0 50%';d.style.transform=`${base} scaleX(${f})`;}
 d.dataset.sx=f;return d;}
function block(lines,x,ys,size,widths){let f=1;lines.forEach((s,i)=>{const d=text(s,x,ys(i),size,widths[i]?{fit:widths[i]}:{sx:f});if(widths[i])f=+d.dataset.sx;});}
function vert(chars,cx,ys,size,c){[...chars].forEach((ch,i)=>text(ch,cx,ys[i],size,{anchor:'c',w:700,c:c||'#fff'}));}
const pad=(n,a)=>Array(n).fill(null).concat(a);
const halve=a=>a.flatMap((v,i)=>i?[null,v]:[v]);
const sparse=(labels,n,step)=>{const a=Array(n).fill('');labels.forEach((l,k)=>{const i=Math.round(k*step);if(i<n)a[i]=l;});return a;};
const thou=v=>Number(v).toLocaleString('en-US');
const yA=o=>({type:'value',min:o.min,max:o.max,interval:o.iv,position:o.pos||'left',
 axisLine:{show:!!o.line,onZero:false,lineStyle:{color:o.lc||'#8c8c8c'}},axisTick:{show:!!o.tick,length:3,lineStyle:{color:o.lc||'#8c8c8c'}},
 axisLabel:{fontSize:o.fs||10,color:o.c||'#222',margin:o.m||6,fontFamily:FONT,formatter:v=>{const k=(v-o.min)/o.iv;if(Math.abs(k-Math.round(k))>1e-6)return '';return o.f?o.f(v):String(v);}},
 splitLine:{show:!!o.sl,lineStyle:{color:o.sl||'#eee'}}});
const xC=(names,o={})=>({type:'category',data:names,boundaryGap:!!o.gap,
 axisLine:{show:o.line!==false,onZero:false,lineStyle:{color:o.lc||'#bbb'}},
 axisTick:{show:!!o.tick,length:3,interval:(i,v)=>v!=='',lineStyle:{color:o.lc||'#999'}},
 axisLabel:{interval:0,rotate:o.rot||0,fontSize:o.fs||10,color:o.c||'#222',margin:o.m||6,fontFamily:FONT},
 splitLine:{show:!!o.sl,interval:(i,v)=>v!=='',lineStyle:{color:o.sl||'#eee'}}});
const L=(name,data,color,w,o={})=>Object.assign({type:'line',name,data,showSymbol:false,symbol:'none',connectNulls:true,smooth:o.smooth===undefined?false:o.smooth,lineStyle:{color,width:w},itemStyle:{color},yAxisIndex:o.y||0,z:o.z||3,animation:false},o.extra||{});
const B=(name,data,color,bw,o={})=>Object.assign({type:'bar',name,data,barWidth:bw,itemStyle:{color},yAxisIndex:o.y||0,barGap:o.gap===undefined?0:o.gap,animation:false},o.extra||{});
const zero=(c,w)=>({markLine:{silent:true,symbol:'none',animation:false,label:{show:false},lineStyle:{color:c,width:w,type:'solid'},data:[{yAxis:0}]}});
function chart(x,y,w,h,build){const d=box(x,y,w,h,'#fff');const c=echarts.init(d,null,{width:w,height:h});
 const k={g:(l,t,r,b)=>({left:l-x,top:t-y,width:r-l,height:b-t}),
  title:(s,cx,cy,size,col,wt)=>({text:s,left:cx-x,top:cy-y-size/2-1,textAlign:'center',padding:0,textStyle:{fontSize:size,fontWeight:wt||'bold',color:col||'#000',fontFamily:FONT,lineHeight:size+2}}),
  lg:(name,lx,cy,fs,col,iw,ih)=>({show:true,data:[name],left:lx-x,top:cy-y-(fs+2)/2,orient:'horizontal',icon:'rect',padding:0,itemGap:0,itemWidth:iw||20,itemHeight:ih||3,selectedMode:false,textStyle:{fontSize:fs,color:col||'#404040',fontFamily:FONT,padding:[0,0,0,1]}})};
 c.setOption(Object.assign({animation:false,textStyle:{fontFamily:FONT}},build(k)));}

/* ---------- header ---------- */
box(2,2,983,51,CELL);box(0,0,218,53,NAVY);box(218,0,101,53,'#fff');
const logo=document.createElementNS('http://www.w3.org/2000/svg','svg');
logo.setAttribute('width','319');logo.setAttribute('height','53');logo.style.cssText='position:absolute;left:0;top:0';
logo.innerHTML=`<g fill="none" stroke="#fff" stroke-width="3"><path d="M11 19q9 -3 18 -2t19 -5"/><path d="M13 28q10 -3 18 -2t15 -4"/><path d="M20 37q8 -2 12 -1t12 -5"/></g><path d="M26 44q4-14 6-24l3 1q-1 12-6 24z" fill="#fff"/>
<text x="53" y="29" fill="#fff" font-size="14" font-family='${FONT}'>浙江海港</text><text x="53" y="37" fill="#bcd" font-size="6" font-family="Roboto">ZHEJIANG SEAPORT</text>
<path d="M146 10a21 21 0 0 1 21 21h9q-8 6-20 3t-22 2q-11 1-15-2q8 0-1-3q6 0 7-1a21 21 0 0 1 21-20z" fill="#EE4B23"/><path d="M129 37q14-3 26 1q-3 7-12 7q-10 0-14-8z" fill="#fff"/><path d="M150 35q12 3 35-3q-18 10-35 3z" fill="#1c5bb5"/>
<text x="166" y="15" fill="#fff" font-size="5.5" font-weight="700" font-family="Roboto">NINGBO ZHOUSHAN</text><text x="194" y="22" fill="#fff" font-size="5.5" font-weight="700" font-family="Roboto">PORT</text><text x="165" y="44" fill="#fff" font-size="9.5" font-family='${FONT}'>宁波舟山港</text>
<path d="M250 2h46l-4 5h-33l5 4h22l-4 4h-14l3 3h7l-4 5l-17-14z" fill="#E1251B"/>
<text x="225" y="44" fill="#111" font-size="19" font-weight="900" font-family='${FONT}' textLength="93">新世纪期货</text>
<text x="225" y="53" fill="#333" font-size="6.5" font-weight="700" font-family="Roboto" textLength="94"><tspan fill="#E1251B">NEW</tspan> CENTURY FUTURES</text>`;
page.appendChild(logo);
text('2026年5月13日 集运日报',577,28,20,{anchor:'c',w:700,c:'#1F1F8F',fit:243});
text('(航运研究小组)',787,29,15,{anchor:'c',c:'#1F3F9F',fit:109});

/* ---------- text cells ---------- */
box(2,56,983,62,CELL);text(headline,490,88,20,{anchor:'c',w:700,fit:909});
box(2,122,983,21,BAR);text('SCFIS、NCFI运价指数',494,132,17,{anchor:'c',w:700,fit:164});
box(2,146,486,166,CELL);box(491,146,494,166,CELL);
const fitL=417/text(freightLeft[1][0],-2000,0,14).offsetWidth,fitR=383/text(freightRight[1][0],-2000,0,14).offsetWidth;
freightLeft.forEach(r=>r[2]?text(r[0],244,r[1],15,{anchor:'c',fit:55-(r[0]==='5月8日'?6:0)}):text(r[0],244,r[1],14,{anchor:'c',sx:fitL}));
freightRight.forEach(r=>r[2]?text(r[0],738,r[1],15,{anchor:'c',fit:49}):text(r[0],738,r[1],14,{anchor:'c',sx:fitR}));
box(77,315,908,151,CELL);block(macroLines,95,i=>325+i*22,14.5,macroWidths);
box(77,469,411,301,CELL);block(todayLines,95,i=>520+i*22,14.5,todayWidths);
box(559,469,426,301,CELL);block(strategyLines,579,i=>553+i*22,14.5,strategyWidths);
box(76,773,909,223,CELL);block(spotLines,95,i=>818+i*22,14.5,spotWidths);
box(76,999,909,66,CELL);text('地缘政治冲突事件、极端天气、外盘原油剧烈波动',530,1032,21,{anchor:'c',w:700,fit:417});
box(2,1067,983,24,BAR);text('上海-鹿特丹40HC运价',494,1079,22,{anchor:'c',w:700,fit:193});
vert('宏观方面',36,[358,383,408,433],24);
vert('今日行情',38,[647,675,703,731],25);
vert('应对策略',523,[652,680,708,736],25);
vert('现货市场',36,[830,858,886,914],25);
text('风险',38,1017,16,{anchor:'c',w:400,c:'#fff'});text('提示',38,1037,16,{anchor:'c',w:400,c:'#fff'});

/* ---------- footer ---------- */
box(2,2970,983,22,BAR);text('数据来源：宁波航交所、Wind',984,2982,16,{anchor:'r',fit:174});
box(2,2995,983,227,BAR);block(disclaimerLines,3,i=>[3031,3053,3076,3097,3119,3142,3163,3185][i],15,disclaimerWidths);

/* ---------- freight panel ---------- */
chart(2,1092,983,133,k=>({
 grid:k.g(36,1116,976,1195),
 title:k.title('运价趋势图_航线',44,1096,10,'#444'),
 legend:[['CMA',252],['EMC',296],['HMM',341],['MAERSK',387],['MSC',448],['ONE',493],['OOCL',537],['HPL',585],['HPL_QQ',629],['COSCO',688]].map(r=>k.lg(r[0],r[1],1106,8,'#999',7,2.5)),
 xAxis:xC(sparse(freightDates,119,2),{rot:90,fs:6.5,c:'#888',lc:'#e8e8e8',m:5,sl:'#fff'}),
 yAxis:yA({min:1000,max:7000,iv:1000,fs:8,c:'#888',m:8,sl:'#f3f3f3'}),
 series:[L('EMC',halve(emc),'#A9DCF5',1,{smooth:true}),L('MSC',halve(msc),'#8FDCC5',1,{smooth:true}),L('MAERSK',halve(maersk),'#F5C36B',1.2,{smooth:true}),L('OOCL',halve(oocl),'#EFA56F',1.2,{smooth:true}),L('HMM',halve(hmm),'#B3A6F2',1.2,{smooth:true}),L('ONE',halve(one),'#6F8FD8',1.2,{smooth:true}),L('HPL',halve(hpl),'#B486E3',1.3,{smooth:true}),L('HPL_QQ',halve(hplQQ),'#E9A8FA',1.3,{smooth:true}),L('COSCO',halve(cosco),'#A98272',1.3,{smooth:true}),L('CMA',cma,'#4E7EEA',1.4,{smooth:true,z:5})]
}));
[['起运港',380],['SHANGHAI,CN',433],['* 航线',535],['欧洲',562],['* 箱型',637],['40GP',667],['* ETD',737],['2026-01-20',782],['→',834],['2026-05-20',868],['ALL IN ▾',941]].forEach(r=>text(r[0],r[1],1096,8,{anchor:'c',w:400,c:'#777'}));

/* ---------- row A ---------- */
chart(2,1227,486,247,k=>({
 grid:k.g(62,1272,475,1433),
 title:k.title('上海集装箱指数',225,1237,14),
 legend:[k.lg('SCFIS欧线',121,1258,9,'#333',20,3),k.lg('SCFI欧线',306,1258,9,'#333',20,3)],
 xAxis:xC(sparse(scfisTicks,105,4),{rot:90,fs:9,c:'#333',lc:'#d9d9d9',sl:'#eee',m:6}),
 yAxis:yA({min:0,max:12000,iv:2000,fs:9.5,c:'#333',m:11,sl:'#e9e9e9',f:v=>thou(v)+'.00'}),
 series:[L('SCFIS欧线',scfisEU,'#FF0000',2.6),L('SCFI欧线',scfiEU,'#000',2.6,{z:4})]
}));
chart(490,1227,495,247,k=>({
 grid:k.g(534,1256,970,1445),
 legend:[['EC2605',491,'#FFC83D'],['EC2606',549,'#A9C79A'],['EC2607',606,'#7F9FDC'],['EC2608',663,'#8EBCE8'],['EC2609',719,'#8CC168'],['EC2610',776,'#BFBFBF'],['EC2612',833,'#4F81BD'],['SCFIS指数(右轴)',889,'#F28B82']].map(r=>k.lg(r[0],r[1],1239,10,'#333',18,2.5)),
 xAxis:xC(sparse(ecTicks,78,6),{fs:10.5,c:'#222',lc:'#8c8c8c',sl:'#e6e6e6',tick:true,m:6}),
 yAxis:yA({min:600,max:3480,iv:500,fs:10,c:'#222',line:true,tick:true,f:thou,m:13}),
 series:[L('SCFIS指数(右轴)',ecScfis,'#F0827C',1),L('EC2606',pad(15,ec2606),'#A0BD8E',1),L('EC2610',pad(38,ec2610),'#BFBFBF',2),L('EC2609',pad(59,ec2609),'#8CC168',2),L('EC2605',pad(59,ec2605),'#FFC83D',2),L('EC2607',pad(59,ec2607),'#7F9FDC',2),L('EC2608',pad(26,ec2608),'#8EBCE8',2),L('EC2612',ec2612,'#4F81BD',2)]
}));

/* ---------- row B ---------- */
chart(2,1476,486,247,k=>{
 const s=(n,a,c,off=0)=>L(n,a.map((v,i)=>[spreadDays[i+off],v]),c,1.8);
 const dark=s('05-10',sp0510,'#D9D9D9');Object.assign(dark,zero('#A6A6A6',2));
 return{grid:k.g(45,1518,482,1699),
 title:k.title('EC价差',253,1485,14),
 legend:[['05-06',20,'#3A5A9A'],['05-07',87,'#548235'],['05-08',155,'#BDD7EE'],['05-09',222,'#F4B183'],['05-10',290,'#D9D9D9'],['05-12',358,'#FFD966'],['05-03',425,'#A9BFE6']].map(r=>k.lg(r[0],r[1],1505,10.5,'#222',18,2.5)),
 xAxis:{type:'value',min:0,max:92.8,interval:7,axisLine:{show:false},axisTick:{show:false},splitLine:{show:false},axisLabel:{fontSize:10.5,color:'#222',margin:6,formatter:v=>spreadTicks[v/7]||''}},
 yAxis:yA({min:-1100,max:900,iv:200,fs:10,line:true,tick:true,c:'#222',f:thou,m:13,lc:'#8c8c8c'}),
 series:[L('05-06',[],'#3A5A9A',1.8),dark,s('05-09',sp0509,'#F4B183'),s('05-12',sp0512,'#FFD966'),s('05-08',sp0508,'#BDD7EE'),s('05-07',sp0507,'#548235'),s('05-03',sp0503,'#A9BFE6',19)]};
});
chart(490,1476,495,247,k=>{
 const s=L('2609基差',pad(58,basis2609),'#BFBFBF',1.8);Object.assign(s,zero('#A6A6A6',2.4));
 return{grid:k.g(531,1524,961,1700),
 title:k.title('EC基差',741,1485,14),
 legend:[['2605基差',495,'#9DC3E6'],['2606基差',565,'#8B6914'],['2607基差',635,'#F4B183'],['2608基差',704,'#5B9BD5'],['2609基差',773,'#BFBFBF'],['2610基差',843,'#1F3864'],['2612基差',913,'#548235']].map(r=>k.lg(r[0],r[1],1509,10,'#444',18,2.5)),
 xAxis:xC(sparse(basisTicks,77,6),{fs:10.5,c:'#222',line:false,sl:'#e6e6e6',m:6}),
 yAxis:yA({min:-1200,max:1500,iv:500,fs:10,line:true,tick:true,c:'#222',f:thou,m:12,sl:'#f2f2f2'}),
 series:[s,L('2605基差',pad(60,basis2605),'#9DC3E6',1.6),L('2607基差',pad(58,basis2607),'#F4B183',1.8),L('2608基差',pad(25,basis2608),'#5B9BD5',1.8),L('2606基差',pad(14,basis2606),'#8B6914',1.8),L('2612基差',pad(50,basis2612),'#548235',1.8),L('2610基差',pad(38,basis2610),'#1F3864',1.8)]};
});

/* ---------- row C ---------- */
chart(2,1725,486,247,k=>({
 grid:k.g(36.5,1778,457,1954),
 title:k.title('人民币即期汇率与SCFI走势',240,1737,12.5,'#222'),
 legend:[k.lg('上海出口集装箱运价指数:综合指数',17,1754,8,'#444',18,3),k.lg('即期汇率:美元兑人民币(右轴)',185,1754,8,'#444',18,3),k.lg('即期汇率:欧元兑人民币(右轴)',337,1754,8,'#444',18,3)],
 xAxis:xC(sparse(yearTicks,85,13.25),{fs:7.5,c:'#333',lc:'#bbb',m:5}),
 yAxis:[yA({min:0,max:5470,iv:1000,fs:8,line:true,lc:'#bbb',m:9}),yA({min:6.2,max:8.49,iv:.5,pos:'right',fs:8,line:true,lc:'#888',m:8,f:v=>v.toFixed(2)})],
 series:[L('即期汇率:欧元兑人民币(右轴)',eurCny,'#2F5597',1,{y:1}),L('即期汇率:美元兑人民币(右轴)',usdCny,'#FF0000',1,{y:1}),L('上海出口集装箱运价指数:综合指数',fxScfi,'#111',1.2,{z:4})]
}));
chart(490,1725,495,247,k=>({
 grid:k.g(518.6,1766,945,1954),
 title:k.title('商品指数与SCFI走势',732,1736,12.7,'#222'),
 legend:[k.lg('上海出口集装箱运价指数(SCFI):综合指数',557,1752,8,'#666',18,3),k.lg('收盘价:Wind商品指数',804,1752,8,'#666',18,3)],
 xAxis:xC(sparse(yearTicks,86,13.375),{fs:7.5,c:'#333',lc:'#bbb',m:5}),
 yAxis:[yA({min:0,max:5080,iv:1000,fs:8,line:true,lc:'#888',m:8}),yA({min:900,max:3000,iv:200,pos:'right',fs:8,line:true,lc:'#888',m:8,f:thou})],
 series:[L('上海出口集装箱运价指数(SCFI):综合指数',cmdScfi,'#FF0000',1),L('收盘价:Wind商品指数',windIndex,'#111',1,{y:1,z:4})]
}));

/* ---------- row D ---------- */
chart(2,1974,486,247,k=>({
 grid:k.g(53.5,2026,461,2201),
 title:k.title('新交付运力',244,1983,13.5,'#595959'),
 legend:[k.lg('>18,000数量',38,1999,9,'#7f7f7f',20,9),k.lg('15,200-17,999数量',191,1999,9,'#7f7f7f',20,9),k.lg('12,500-15,199数量',344,1999,9,'#7f7f7f',20,9),k.lg('>18,000',38,2013,9,'#7f7f7f',20,3),k.lg('15,200-17,999',191,2013,9,'#7f7f7f',20,3),k.lg('12,500-15,199',344,2013,9,'#7f7f7f',20,3)],
 xAxis:Object.assign(xC(deliveryYears,{gap:true,fs:11,c:'#595959',lc:'#d9d9d9',sl:'#eee',m:6}),{axisLabel:{interval:0,fontSize:11,color:'#595959',margin:6,fontWeight:'bold'},splitLine:{show:true,lineStyle:{color:'#eee'}}}),
 yAxis:[yA({min:0,max:1200000,iv:200000,fs:9,c:'#7f7f7f',m:11,sl:'#eee',f:thou}),yA({min:0,max:70,iv:10,pos:'right',fs:10,c:'#7f7f7f',m:12})],
 series:[B('>18,000数量',teu18k,'#F4B183',18),B('15,200-17,999数量',teu15k,'#C9C9C9',18),B('12,500-15,199数量',teu12k,'#FFD966',18),L('>18,000',cnt18k,'#000',2.2,{y:1,z:5}),L('15,200-17,999',cnt15k,'#FF0000',2.2,{y:1,z:5}),L('12,500-15,199',cnt12k,'#ED7D31',2.2,{y:1,z:5})]
}));
chart(490,1974,495,247,k=>({
 grid:k.g(516,2019,969,2182),
 title:k.title('GCSP到离港准班率',737,1981,13,'#000'),
 legend:[['GCSP:综合准班率指数',499,1995,'#FF0000'],['GCSP:成发货服务准班率指数',656,1995,'#000'],['GCSP:到离港服务准班率指数',814,1995,'#FFC000'],['GCSP:到离港服务准班率:亚洲-欧洲',499,2004,'#9DC3E6'],['GCSP:到离港服务准班率:亚洲-地中海',656,2004,'#7F7F7F'],['GCSP:到离港服务准班率:亚洲-美西',814,2004,'#E6A9A9'],['GCSP:港口准班率:新加坡',499,2013,'#A9D18E']].map(r=>k.lg(r[0],r[1],r[2],6.5,'#666',17,2.5)),
 xAxis:xC(sparse(gcspTicks,75,2),{gap:true,rot:90,fs:7.5,c:'#666',line:false,sl:'#f0f0f0',m:6}),
 yAxis:yA({min:0,max:90,iv:10,fs:8.5,c:'#333',sl:'#f0f0f0',m:11}),
 series:[L('GCSP:港口准班率:新加坡',gcspSG,'#A9D18E',1.4,{smooth:true}),L('GCSP:到离港服务准班率:亚洲-欧洲',gcspEurope,'#9DC3E6',1.4,{smooth:true}),L('GCSP:到离港服务准班率:亚洲-美西',gcspUSW,'#E6A9A9',1.4,{smooth:true}),L('GCSP:到离港服务准班率:亚洲-地中海',gcspMed,'#7F7F7F',1.4,{smooth:true}),L('GCSP:到离港服务准班率指数',gcspPort,'#FFC000',1.6,{smooth:true,z:4}),L('GCSP:综合准班率指数',gcspAll,'#FF0000',1.6,{smooth:true,z:4}),L('GCSP:成发货服务准班率指数',gcspCargo,'#000',1.6,{smooth:true,z:5})]
}));

/* ---------- row E ---------- */
chart(2,2223,486,247,k=>({
 grid:k.g(41,2277,462,2440),
 title:k.title('中国新三样出口',256,2232,12.5,'#404040'),
 legend:[k.lg('中国:出口金额:汽车包括底盘:累计值:亿',5,2249,7.8,'#555',18,9),k.lg('中国:出口金额:电动载人汽车:累计值:亿',166,2249,7.8,'#555',18,9),k.lg('中国:出口金额:集成电路:累计值:亿',326,2249,7.8,'#555',18,9),k.lg('中国:出口金额:汽车包括底盘:累计同比',5,2266,7.8,'#555',18,3),k.lg('中国:出口金额:电动载人汽车:累计同比',166,2266,7.8,'#555',18,3),k.lg('中国:出口金额:集成电路:累计同比',326,2266,7.8,'#555',18,3)],
 xAxis:xC(trioMonths,{gap:true,rot:90,fs:7.5,c:'#444',lc:'#ddd',m:5}),
 yAxis:[yA({min:0,max:1500,iv:200,fs:9,c:'#444',m:9,f:thou}),yA({min:-50,max:200,iv:50,pos:'right',fs:9,c:'#444',m:8})],
 series:[B('中国:出口金额:汽车包括底盘:累计值:亿',trioCar,'#92CF57',4,{gap:'15%'}),B('中国:出口金额:电动载人汽车:累计值:亿',trioEV,'#FF1F1F',4,{gap:'15%'}),B('中国:出口金额:集成电路:累计值:亿',trioIC,'#7FB0DF',4,{gap:'15%'}),L('中国:出口金额:汽车包括底盘:累计同比',trioCarY,'#FF0000',2,{y:1,z:5}),L('中国:出口金额:电动载人汽车:累计同比',trioEVY,'#1F7FC8',2,{y:1,z:5}),L('中国:出口金额:集成电路:累计同比',trioICY,'#000',2,{y:1,z:6})]
}));
chart(490,2223,495,247,k=>({
 grid:k.g(530,2264,963,2435),
 title:k.title('港口集装箱吞吐量',743,2231,13),
 legend:[k.lg('中国:港口:集装箱吞吐量:当月值',542,2246,8,'#555',18,7),k.lg('中国:沿海:集装箱吞吐量:当月值',788,2246,8,'#555',18,7),k.lg('全国主要港口:集装箱吞吐量:当月同比',542,2254,8,'#555',18,3),k.lg('集装箱吞吐量:沿海合计:当月同比',788,2254,8,'#555',18,3)],
 xAxis:xC(sparse(portTicks,49,2),{gap:true,rot:90,fs:8,c:'#444',lc:'#ddd',m:6}),
 yAxis:[yA({min:0,max:3500,iv:500,fs:10,c:'#222',m:12,f:thou}),yA({min:0,max:12,iv:2,pos:'right',fs:10,c:'#222',m:12})],
 series:[B('中国:港口:集装箱吞吐量:当月值',portChina,'#F4B183',3.4),B('中国:沿海:集装箱吞吐量:当月值',portCoast,'#9DC3E6',3.4),L('全国主要港口:集装箱吞吐量:当月同比',portMajorY,'#FF0000',2,{y:1,z:5}),L('集装箱吞吐量:沿海合计:当月同比',portCoastY,'#000',2,{y:1,z:6})]
}));

/* ---------- row F ---------- */
chart(2,2472,486,247,k=>({
 grid:k.g(45.7,2523,454.6,2681),
 title:k.title('中国工业企业产销',250,2481,12.7,'#222'),
 legend:[k.lg('中国:工业企业:产销率:当月值',54,2495,8,'#555',18,7),k.lg('中国:工业企业:出口交货值:当月值',290,2495,8,'#555',18,7),k.lg('中国:工业企业:产销率:当月同比',54,2506,8,'#555',18,3),k.lg('中国:工业企业:出口交货值:当月同比',290,2506,8,'#555',18,3)],
 xAxis:xC(sparse(indTicks,61,3),{gap:true,rot:90,fs:8.5,c:'#444',lc:'#ddd',m:6}),
 yAxis:[yA({min:0,max:16000,iv:2000,fs:9,c:'#444',m:10,f:thou}),yA({min:-15,max:20,iv:5,pos:'right',fs:9,c:'#444',m:14})],
 series:[B('中国:工业企业:产销率:当月值',indRate,'#5B9BD5',4.2,{gap:'-100%'}),B('中国:工业企业:出口交货值:当月值',indExport,'#F4B183',4.2,{gap:'-100%'}),L('中国:工业企业:产销率:当月同比',indRateY,'#FF0000',2,{y:1,z:5}),L('中国:工业企业:出口交货值:当月同比',indExportY,'#000',2,{y:1,z:6})]
}));
chart(490,2472,495,247,k=>{
 const sh=L('集装箱吞吐量:上海口岸:当月同比',cargoShanghai,'#F4B183',1.1);Object.assign(sh,zero('#595959',1.4));
 return{grid:k.g(530.5,2508,974,2676),
 title:k.title('主要港口货物吞吐量同比',743,2481,14.4),
 legend:[k.lg('中国:沿海主要港口货物吞吐量:当月同比',520,2495,9,'#555',20,2.5),k.lg('中国:外贸货物吞吐量:当月同比',769,2495,9,'#555',20,2.5),k.lg('集装箱吞吐量:上海口岸:当月同比',520,2506,9,'#555',20,2.5)],
 xAxis:xC(sparse(cargoTicks,74,3),{gap:true,rot:90,fs:9,c:'#333',line:false,m:7}),
 yAxis:yA({min:-20,max:55,iv:10,fs:9.5,c:'#222',m:12,sl:'#f0f0f0',f:v=>v.toFixed(2)}),
 series:[sh,L('中国:外贸货物吞吐量:当月同比',cargoForeign,'#FF3030',1.4),L('中国:沿海主要港口货物吞吐量:当月同比',cargoCoast,'#333',1.4)]};
});

/* ---------- row G ---------- */
chart(2,2721,486,247,k=>({
 grid:k.g(48.5,2760,480,2930),
 title:k.title('中国--欧洲周度集装箱运力投放',260,2737,17.5),
 xAxis:xC(sparse(weeklyTicks,weeklyCapacity.length,8.66),{rot:45,fs:10,c:'#222',lc:'#44546A',tick:true,m:7}),
 yAxis:yA({min:100000,max:420000,iv:50000,fs:10.5,c:'#222',m:10,sl:'#e2e2e2'}),
 series:[L('中国--欧洲周度集装箱运力投放',weeklyCapacity,'#5B9BD5',0.5,{extra:{areaStyle:{color:'#5B9BD5',opacity:1}}})]
}));
chart(490,2721,495,247,k=>({
 grid:k.g(513,2752,975,2939),
 title:k.title('全球船舶航速',741,2729,14.5,'#333'),
 legend:[['2020',523,'#A9D18E'],['2021',590,'#8FAADC'],['2022',655,'#F4B183'],['2023',720,'#000'],['2024',786,'#FF0000'],['2025',852,'#40D0D0'],['2026',917,'#E2562D']].map(r=>k.lg(r[0],r[1],2742,8.5,'#666',20,2.5)),
 xAxis:xC(sparse(speedWeeks,53,2),{gap:true,rot:90,fs:7.5,c:'#777',line:false,sl:'#f0f0f0',m:6}),
 yAxis:yA({min:9,max:12.5,iv:.5,fs:9,c:'#666',sl:'#f0f0f0',m:5}),
 series:[L('2020',halve(speed2020),'#A9D18E',1.6,{smooth:true}),L('2021',halve(speed2021),'#8FAADC',1.6,{smooth:true}),L('2022',halve(speed2022),'#F4B183',1.6,{smooth:true}),L('2025',speed2025,'#40D0D0',1.1,{smooth:true}),L('2026',speed2026,'#E2562D',1,{smooth:true}),L('2023',speed2023,'#000',2,{smooth:true,z:5}),L('2024',speed2024,'#FF0000',2,{smooth:true,z:6})]
}));
</script></body></html>
